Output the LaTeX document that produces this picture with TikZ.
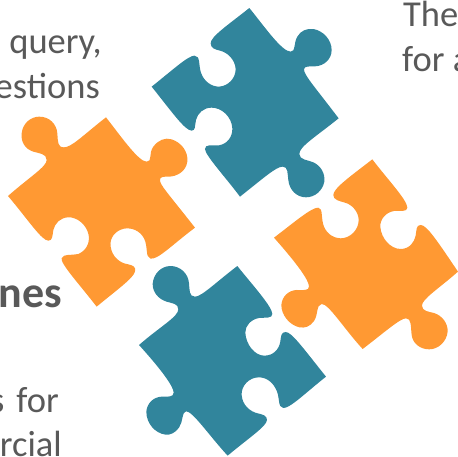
\documentclass[tikz,border=0pt]{standalone}
\usepackage{fontspec}
\setmainfont{Carlito}
\definecolor{puzor}{HTML}{FF9933}
\definecolor{puzte}{HTML}{31859C}
\definecolor{txtgr}{HTML}{595959}
\tikzset{
  puzzle/.style={fill=#1,draw=none},
  txt/.style={text=txtgr,font=\fontsize{36.5}{36.5}\selectfont,inner sep=0pt,anchor=base east},
  txtl/.style={text=txtgr,font=\fontsize{36.5}{36.5}\selectfont,inner sep=0pt,anchor=base west},
}
\begin{document}
\begin{tikzpicture}[x=1pt,y=-1pt]
\useasboundingbox (0,0) rectangle (458,456);
\clip (0,0) rectangle (458,456);
\node[txt] (t1) at (102,53) {query,};
\node[txt] (t2) at (100,98) {estions};
\node[txtl] (t3) at (403,26) {The};
\node[txtl] (t4) at (402,71) {for a};
\node[txt,font=\fontsize{44}{44}\selectfont\bfseries] (t5) at (62,307) {nes};
\node[txt] (t6) at (59,412) {s\hspace{12pt}for};
\node[txt] (t8) at (62,456) {rcial};
% orange left
\begin{scope}[shift={(0,100)},x=0.3333pt,y=-0.3333pt]
\fill[puzzle=puzor] (318,52) .. controls (360,105) and (415,185) .. (440,185)
 .. controls (458,185) and (445,160) .. (460,140)
 .. controls (475,120) and (495,112) .. (515,118)
 .. controls (545,128) and (565,155) .. (562,185)
 .. controls (558,215) and (530,230) .. (505,230)
 .. controls (490,230) and (480,230) .. (480,240)
 .. controls (480,255) and (500,275) .. (585,383)
 .. controls (510,440) and (475,478) .. (452,476)
 .. controls (435,472) and (445,440) .. (432,415)
 .. controls (420,392) and (395,382) .. (372,386)
 .. controls (345,392) and (328,415) .. (332,440)
 .. controls (336,470) and (360,490) .. (385,493)
 .. controls (400,497) and (408,500) .. (405,515)
 .. controls (400,535) and (350,570) .. (290,620)
 .. controls (240,555) and (180,490) .. (185,475)
 .. controls (190,460) and (215,467) .. (235,462)
 .. controls (258,452) and (270,430) .. (266,405)
 .. controls (260,375) and (232,350) .. (203,352)
 .. controls (180,354) and (165,370) .. (160,390)
 .. controls (157,408) and (158,422) .. (145,422)
 .. controls (125,422) and (85,360) .. (24,288)
 .. controls (90,230) and (140,200) .. (140,180)
 .. controls (140,160) and (115,160) .. (100,155)
 .. controls (75,147) and (62,125) .. (65,100)
 .. controls (68,70) and (92,50) .. (118,50)
 .. controls (148,50) and (170,72) .. (172,100)
 .. controls (174,125) and (172,142) .. (192,142)
 .. controls (215,142) and (250,105) .. (318,52) -- cycle;
\end{scope}
% teal top
\begin{scope}[shift={(150,0)},x=0.3333pt,y=-0.3333pt]
\fill[puzzle=puzte] (298,24) .. controls (340,75) and (395,155) .. (422,155)
 .. controls (438,155) and (430,130) .. (442,110)
 .. controls (452,92) and (470,85) .. (490,87)
 .. controls (520,92) and (545,120) .. (545,150)
 .. controls (545,178) and (522,198) .. (495,199)
 .. controls (480,199) and (462,198) .. (462,208)
 .. controls (462,225) and (490,255) .. (566,355)
 .. controls (495,412) and (448,440) .. (448,462)
 .. controls (448,480) and (475,480) .. (490,487)
 .. controls (512,497) and (526,520) .. (523,545)
 .. controls (518,572) and (495,592) .. (468,592)
 .. controls (440,592) and (418,570) .. (415,540)
 .. controls (412,520) and (415,500) .. (398,500)
 .. controls (378,500) and (340,535) .. (270,590)
 .. controls (225,530) and (165,465) .. (165,447)
 .. controls (165,432) and (185,437) .. (207,436)
 .. controls (232,432) and (248,410) .. (247,385)
 .. controls (245,350) and (215,323) .. (185,323)
 .. controls (160,323) and (143,340) .. (138,360)
 .. controls (134,378) and (137,392) .. (125,392)
 .. controls (105,392) and (65,335) .. (5,260)
 .. controls (70,208) and (115,167) .. (133,167)
 .. controls (152,167) and (145,195) .. (153,218)
 .. controls (162,245) and (185,260) .. (207,260)
 .. controls (235,258) and (257,235) .. (257,207)
 .. controls (255,178) and (232,157) .. (210,152)
 .. controls (195,148) and (182,145) .. (182,130)
 .. controls (182,110) and (230,78) .. (298,24) -- cycle;
\end{scope}
% orange right
\begin{scope}[shift={(270,155)},x=0.3333pt,y=-0.3333pt]
\fill[puzzle=puzor] (307,13) .. controls (350,70) and (412,135) .. (412,158)
 .. controls (412,172) and (390,166) .. (372,168)
 .. controls (348,172) and (330,192) .. (331,215)
 .. controls (333,250) and (362,282) .. (392,282)
 .. controls (418,282) and (433,262) .. (437,242)
 .. controls (440,225) and (438,210) .. (452,210)
 .. controls (470,210) and (500,255) .. (564,350)
 .. controls (505,402) and (456,432) .. (456,452)
 .. controls (456,468) and (475,470) .. (492,474)
 .. controls (517,482) and (534,505) .. (533,530)
 .. controls (530,560) and (505,583) .. (478,583)
 .. controls (450,583) and (428,565) .. (425,540)
 .. controls (422,515) and (425,490) .. (408,490)
 .. controls (390,490) and (340,535) .. (278,582)
 .. controls (225,525) and (175,445) .. (155,447)
 .. controls (138,450) and (145,480) .. (132,498)
 .. controls (120,515) and (105,520) .. (88,517)
 .. controls (58,510) and (34,480) .. (34,450)
 .. controls (36,425) and (55,406) .. (80,405)
 .. controls (98,405) and (117,408) .. (117,395)
 .. controls (117,375) and (80,325) .. (12,248)
 .. controls (75,200) and (125,157) .. (145,158)
 .. controls (160,160) and (152,190) .. (162,215)
 .. controls (172,238) and (192,250) .. (212,250)
 .. controls (240,250) and (266,225) .. (266,195)
 .. controls (266,170) and (245,148) .. (225,143)
 .. controls (208,138) and (190,135) .. (190,120)
 .. controls (190,100) and (240,65) .. (307,13) -- cycle;
\end{scope}
% teal bottom
\begin{scope}[shift={(135,260)},x=0.3333pt,y=-0.3333pt]
\fill[puzzle=puzte] (307,18) .. controls (350,72) and (412,140) .. (412,162)
 .. controls (412,176) and (392,172) .. (372,174)
 .. controls (348,178) and (330,198) .. (331,218)
 .. controls (333,255) and (360,287) .. (388,287)
 .. controls (415,287) and (432,268) .. (436,245)
 .. controls (438,230) and (438,216) .. (452,216)
 .. controls (470,216) and (505,265) .. (573,350)
 .. controls (510,400) and (465,445) .. (445,444)
 .. controls (428,442) and (435,415) .. (425,392)
 .. controls (415,368) and (395,352) .. (372,352)
 .. controls (342,352) and (318,378) .. (320,405)
 .. controls (322,435) and (345,455) .. (368,460)
 .. controls (385,464) and (396,467) .. (396,480)
 .. controls (396,498) and (340,535) .. (278,587)
 .. controls (225,530) and (172,452) .. (153,454)
 .. controls (140,456) and (145,485) .. (132,503)
 .. controls (120,520) and (105,525) .. (92,524)
 .. controls (60,520) and (34,490) .. (34,455)
 .. controls (36,430) and (55,411) .. (80,410)
 .. controls (98,410) and (116,412) .. (116,398)
 .. controls (116,380) and (80,330) .. (12,255)
 .. controls (75,200) and (130,170) .. (130,148)
 .. controls (130,130) and (110,130) .. (95,125)
 .. controls (70,117) and (53,97) .. (53,72)
 .. controls (55,42) and (78,18) .. (107,18)
 .. controls (135,18) and (160,40) .. (162,70)
 .. controls (164,90) and (162,110) .. (180,110)
 .. controls (200,110) and (245,65) .. (307,18) -- cycle;
\end{scope}
\end{tikzpicture}
\end{document}
